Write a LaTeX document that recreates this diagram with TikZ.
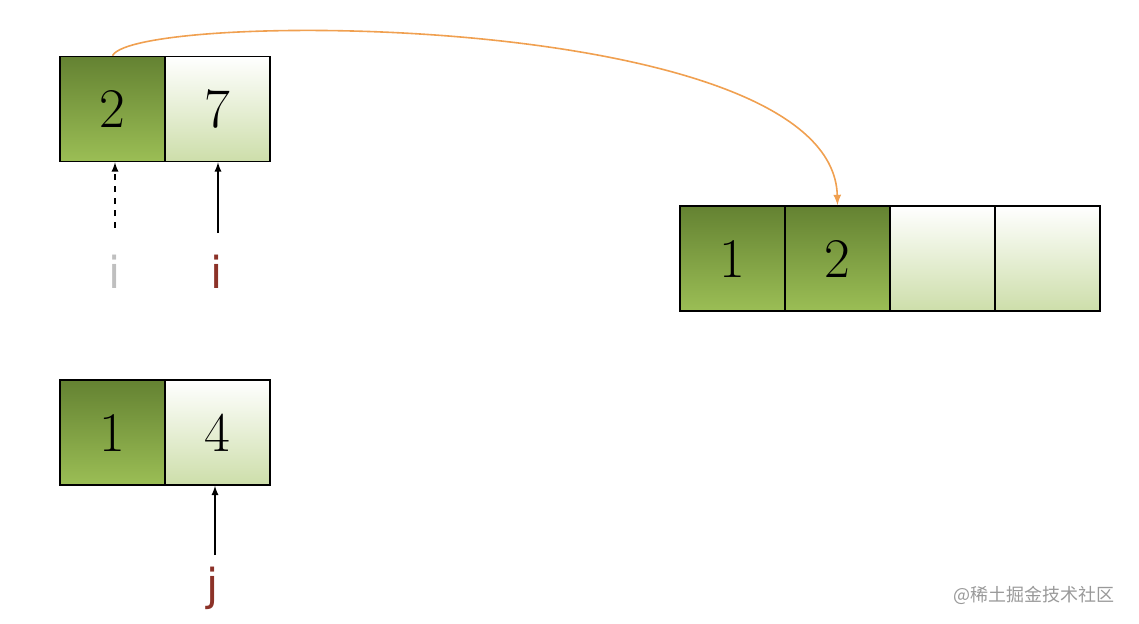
\documentclass[tikz,border=0pt]{standalone}
\usepackage{fontspec}
\newfontfamily\cjk{Noto Sans CJK SC}
\newfontfamily\lab{DejaVu Sans}
\definecolor{darkg}{RGB}{100,130,50}
\definecolor{midg}{RGB}{155,190,85}
\definecolor{paleg}{RGB}{205,222,170}
\definecolor{redb}{RGB}{140,50,40}
\definecolor{org}{RGB}{240,160,80}
\tikzset{
  dcell/.style={draw=black,line width=0.8pt,minimum width=52.5pt,minimum height=52.5pt,inner sep=0pt,top color=darkg,bottom color=midg,font=\fontsize{28}{30}\selectfont},
  lcell/.style={draw=black,line width=0.8pt,minimum width=52.5pt,minimum height=52.5pt,inner sep=0pt,top color=white,bottom color=paleg,font=\fontsize{28}{30}\selectfont},
  ptr/.style={-latex,line width=0.6pt},
  lbl/.style={font=\lab\fontsize{22}{24}\selectfont,inner sep=0pt}
}
\begin{document}
\begin{tikzpicture}[x=0.5pt,y=-0.5pt]
\useasboundingbox (0,0) rectangle (1139,623);
\node[dcell] (a1) at (112.5,109) {2};
\node[lcell] (a2) at (217.5,109) {7};
\node[dcell] (b1) at (112.5,432.5) {1};
\node[lcell] (b2) at (217.5,432.5) {4};
\node[dcell] (c1) at (732.5,258.5) {1};
\node[dcell] (c2) at (837.5,258.5) {2};
\node[lcell] (c3) at (942.5,258.5) {};
\node[lcell] (c4) at (1047.5,258.5) {};
\node[lbl,text=black!25] (i0) at (115,272) {i};
\node[lbl,text=redb] (i1) at (217,272) {i};
\node[lbl,text=redb] (j) at (213,588) {j};
\coordinate (i0t) at (115,228);
\coordinate (i1t) at (218,233);
\coordinate (jt) at (215,555);
\draw[ptr,dashed] (i0t) -- (a1.south -| i0t);
\draw[ptr] (i1t) -- (a2.south -| i1t);
\draw[ptr] (jt) -- (b2.south -| jt);
\draw[-latex,org,line width=0.8pt] (a1.north) .. controls (135,10) and (833,10) .. (c2.north);
\node[font=\cjk\fontsize{9}{10}\selectfont,text=black!40,anchor=east] (wm) at (1122,595) {@稀土掘金技术社区};
\end{tikzpicture}
\end{document}
